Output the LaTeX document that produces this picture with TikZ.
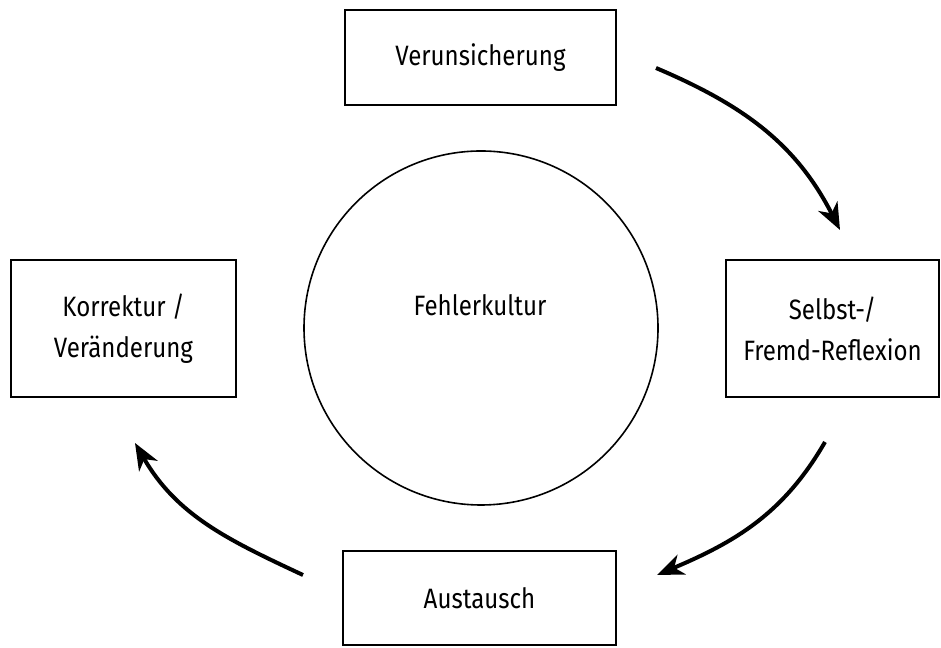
\documentclass[tikz,border=0pt]{standalone}
\usepackage{fontspec}
\setmainfont[FakeStretch=0.86]{Fira Sans}
\usetikzlibrary{arrows.meta,positioning,shapes.geometric}

\begin{document}
\begin{tikzpicture}[
  x=0.75pt,y=0.75pt,
  n/.style={draw,line width=1.3pt,align=center,inner sep=0pt,font=\fontsize{21}{30.75}\selectfont},
  arr/.style={line width=3pt,-{Stealth[length=20pt,width=16pt,inset=6pt]}}
]
\useasboundingbox (0,0) rectangle (941,648);
% Boxes
\node[n,minimum width=271*0.75pt,minimum height=95*0.75pt] (ver) at (480.5,590.5) {Verunsicherung};
\node[n,minimum width=213*0.75pt,minimum height=137*0.75pt] (refl) at (832.5,319.5) {Selbst-/\\Fremd-Reflexion};
\node[n,minimum width=273*0.75pt,minimum height=94*0.75pt] (aus) at (479.5,50) {Austausch};
\node[n,minimum width=225*0.75pt,minimum height=137*0.75pt] (korr) at (123.5,319.5) {Korrektur /\\Ver\"anderung};
% Centre
\node[draw,circle,line width=1.2pt,minimum size=354*0.75pt] (kreis) at (481,320) {};
\node[n,draw=none] (fk) at (480,343) {Fehlerkultur};
% Arrows
\coordinate (a1) at (656,580);
\coordinate (a2) at (840,418);
\coordinate (b1) at (825,206);
\coordinate (b2) at (657,73);
\coordinate (c1) at (303,73);
\coordinate (c2) at (135,205);
\draw[arr] (a1) to[out=-23,in=117] (a2);
\draw[arr] (b1) to[out=240,in=23] (b2);
\draw[arr] (c1) to[out=155,in=300] (c2);
\end{tikzpicture}
\end{document}
